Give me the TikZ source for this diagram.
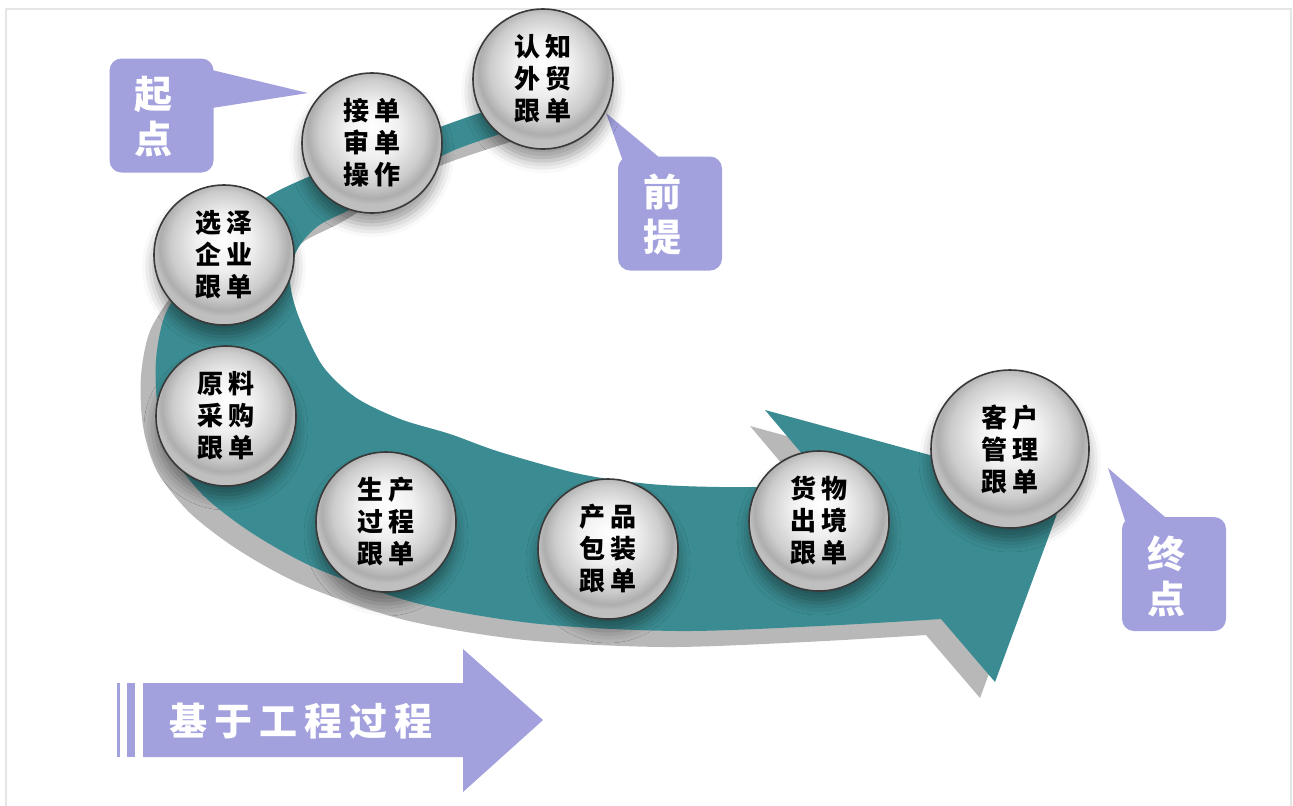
\documentclass[tikz,border=0pt]{standalone}
\usepackage{fontspec}
\newfontfamily\cjk{Noto Sans CJK SC}[BoldFont={Noto Sans CJK SC Black}]
\usetikzlibrary{shadows.blur}

\definecolor{bandteal}{HTML}{3B8C92}
\definecolor{bandgray}{HTML}{B8B8B8}
\definecolor{lilac}{HTML}{A2A1DD}
\pgfdeclareradialshading{sphere}{\pgfpoint{0bp}{6bp}}{%
  color(0bp)=(white); color(10bp)=(gray!12); color(19bp)=(gray!40);
  color(23bp)=(gray!64); color(25bp)=(gray!50); color(50bp)=(gray!50)}
\newcommand{\gap}{\hspace{0.18em}}
% the curved arrow, top end first
\newcommand{\bandpath}{%
  plot[smooth] coordinates {(545,98) (490,110) (440,127) (380,150) (320,172)
    (267,197) (225,232) (190,275) (165,315) (156,360) (158,410) (172,455)
    (205,497) (255,535) (320,570) (420,604) (540,624) (680,631) (820,626) (941,619)}
  -- (995,682) -- (1065,492) -- (765,410) -- (830,487)
  -- plot[smooth] coordinates {(830,487) (720,487) (650,484) (580,474) (500,452)
    (450,434) (400,419) (355,397) (322,365) (298,315) (290,280) (297,250)
    (318,226) (355,207) (400,180) (450,152) (500,134) (545,120)}
  -- cycle}

\begin{document}
\begin{tikzpicture}[x=0.5pt,y=-0.5pt,
    ball/.style={circle,minimum size=70pt,inner sep=0pt,draw=gray!45!black,line width=0.8pt,
      shade,shading=sphere,align=center,font=\cjk\bfseries\fontsize{13}{16}\selectfont,
      blur shadow={shadow xshift=0pt,shadow yshift=-6pt,shadow opacity=40,shadow blur radius=6pt}},
    callout/.style={fill=lilac,rounded corners=6pt,minimum width=52pt,minimum height=57pt,inner sep=0pt},
    calltext/.style={text=white,align=center,font=\cjk\bfseries\fontsize{19}{22.5}\selectfont},
  ]
  \useasboundingbox (0,0) rectangle (1293,805);
  \draw[gray!20,line width=1.2pt] (6,9) rectangle (1291,830);

  % curved arrow with its shadow
  \fill[bandgray,shift={(-15,16)}] \bandpath;
  \fill[bandteal] \bandpath;

  % callouts
  \fill[lilac] (212,70) -- (308,93) -- (212,108) -- cycle;
  \node[callout] (qidianbox) at (161.5,115.5) {};
  \node[calltext] (qidian) at (153,117) {起\\点};

  \fill[lilac] (626,170) -- (606,113) -- (660,158) -- cycle;
  \node[callout] (qiantibox) at (670,213.5) {};
  \node[calltext] (qianti) at (662,214) {前\\提};

  \fill[lilac] (1128,530) -- (1108,468) -- (1165,517) -- cycle;
  \node[callout] (zhongdianbox) at (1174,574) {};
  \node[calltext] (zhongdian) at (1166,576) {终\\点};

  % process arrow
  \fill[lilac] (117,683) rectangle (120,757);
  \fill[lilac] (127,683) rectangle (135,757);
  \fill[lilac] (143,683) -- (463,683) -- (463,649) -- (543,720) -- (463,792) -- (463,757) -- (143,757) -- cycle;
  \node[calltext] (jiyu) at (301,721) {基\gap 于\gap 工\gap 程\gap 过\gap 程};

  % steps
  \node[ball] (renzhi)  at (543,79)  {认\gap 知\\外\gap 贸\\跟\gap 单};
  \node[ball] (jiedan)  at (372,143) {接\gap 单\\审\gap 单\\操\gap 作};
  \node[ball] (xuanze)  at (224,255) {选\gap 泽\\企\gap 业\\跟\gap 单};
  \node[ball] (yuanliao) at (226,416) {原\gap 料\\采\gap 购\\跟\gap 单};
  \node[ball] (shengchan) at (386,522) {生\gap 产\\过\gap 程\\跟\gap 单};
  \node[ball] (chanpin) at (608,549) {产\gap 品\\包\gap 装\\跟\gap 单};
  \node[ball] (huowu)   at (819,521) {货\gap 物\\出\gap 境\\跟\gap 单};
  \node[ball,minimum size=79pt] (kehu) at (1010,449) {客\gap 户\\管\gap 理\\跟\gap 单};
\end{tikzpicture}
\end{document}
